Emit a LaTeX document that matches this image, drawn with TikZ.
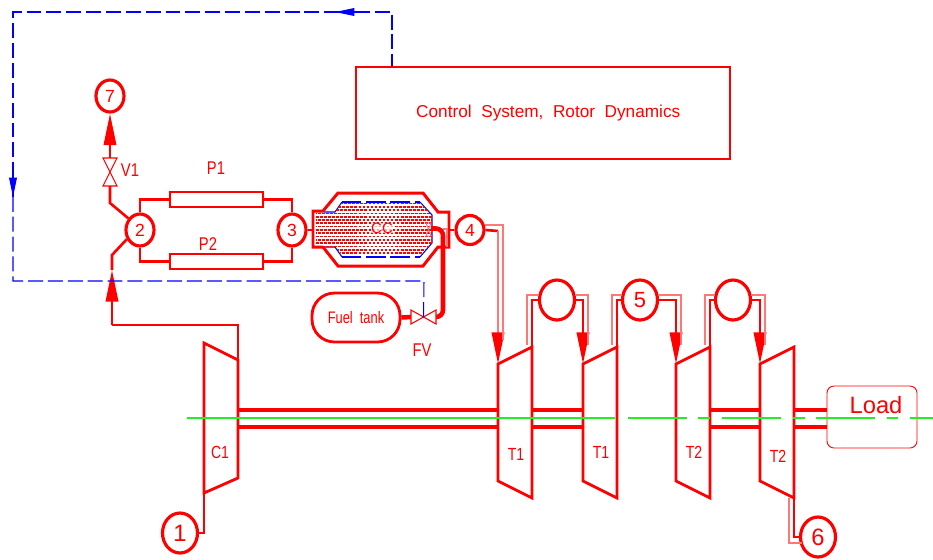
\documentclass[tikz,border=0pt]{standalone}
\usepackage{fontspec}
\usepackage{graphicx}
\setmainfont{Liberation Sans}
\usetikzlibrary{arrows.meta,positioning,calc,shapes.geometric}
\definecolor{gas}{RGB}{255,0,0}
\definecolor{gasp}{RGB}{255,120,120}
\definecolor{ctrl}{RGB}{0,0,255}
\definecolor{axis}{RGB}{40,235,40}
\newcommand{\fsz}[1]{\fontsize{#1}{#1}\selectfont}
\newcommand{\cad}[2][0.8]{\scalebox{#1}[1]{#2}}

\begin{document}
\begin{tikzpicture}[
    x=0.02cm, y=-0.02cm,
    pipe/.style={draw=gas, line width=1.5pt},
    fuel/.style={draw=gas, line width=2.6pt},
    pale/.style={draw=gasp, line width=0.7pt},
    shaft/.style={draw=gas, line width=2pt},
    sig/.style={draw=ctrl, line width=0.6pt, dash pattern=on 8.5pt off 2.8pt},
    arr/.style={-{Triangle[length=18pt,width=7pt]}, gas, line width=1.5pt},
    sarr/.style={-{Triangle[length=11pt,width=4.4pt]}, ctrl, line width=0.6pt},
    stn/.style={ellipse, draw=gas, line width=1.8pt, inner sep=0pt, text=gas, minimum width=0.56cm, minimum height=0.64cm},
    bstn/.style={stn, minimum width=0.7cm, minimum height=0.8cm},
    pbox/.style={draw=gas, line width=1.5pt, minimum width=1.86cm, minimum height=0.3cm},
    lab/.style={text=gas, inner sep=0pt},
    valve/.style={draw=gas, line width=0.6pt, fill=white},
]
\useasboundingbox (0,0) rectangle (933,559);

% Stations
\node[stn, font=\fsz{10}] (n7) at (110,96) {7};
\node[stn, font=\fsz{10}] (n2) at (140,230) {2};
\node[stn, font=\fsz{10}] (n3) at (292,230) {3};
\node[stn, font=\fsz{10}, minimum height=0.58cm] (n4) at (470,230) {4};
\node[bstn, font=\fsz{13.5}] (n1) at (180,533) {1};
\node[bstn, font=\fsz{12.5}] (n5) at (640,300) {5};
\node[bstn, font=\fsz{13.5}] (n6) at (818,537) {6};
\node[bstn] (na) at (557,300) {};
\node[bstn] (nb) at (733,300) {};

% Boxes
\node[pbox] (p1) at (216.5,199.5) {};
\node[pbox] (p2) at (216.5,261.5) {};
\node[draw=gas, line width=1.6pt, minimum width=7.48cm, minimum height=1.84cm, text=gas, font=\fsz{9.8}] (ctl) at (543,113) {\kern6pt Control\ \ System,\ \ Rotor\ \ Dynamics};
\node[draw=gas, line width=1.6pt, rounded corners=0.45cm, minimum width=1.76cm, minimum height=0.98cm, text=gas, font=\fsz{9.5}] (tank) at (356,317.5) {\cad[0.77]{Fuel\ \ tank}};
\node[draw=gas, line width=0.5pt, rounded corners=0.14cm, minimum width=1.8cm, minimum height=1.24cm] (load) at (872,417) {};

% Combustor
\coordinate (ccw) at (313,230);
\coordinate (cce) at (449,230);
\draw[ctrl, line width=0.6pt] (324,212) -- (335,212) -- (342,202);
\draw[ctrl, line width=0.6pt] (420,202) -- (432,215) -- (432,243) -- (420,257);
\draw[ctrl, line width=0.6pt] (324,247) -- (335,247) -- (342,257);
\draw[sig, dash pattern=on 11pt off 2.8pt] (342,202) -- (420,202);
\draw[sig, dash pattern=on 11pt off 2.8pt] (342,257) -- (420,257);
\begin{scope}
\clip (324,212) -- (335,212) -- (342,202) -- (420,202) -- (432,215) -- (432,243) -- (420,255) -- (342,255) -- (335,247) -- (316,247) -- (316,212) -- cycle;
\foreach \i in {0,...,15} {
    \pgfmathsetmacro{\yy}{203.5+3.3*\i}
    \pgfmathsetmacro{\ph}{mod(\i,2)*1.1}
    \draw[gas, line width=0.95pt, dash pattern=on 1.5pt off 0.8pt, dash phase=\ph pt] (316,\yy) -- (432,\yy);
}
\end{scope}
\draw[pipe, line width=1.7pt] (323,247) -- (313,247) -- (313,211) -- (323,211) -- (338,193) -- (423,193) -- (438,212) -- (449,212) -- (449,247) -- (438,247) -- (423,266) -- (338,266) -- (323,247);
\node[lab, font=\fsz{8.5}, fill=white, fill opacity=0.65, text opacity=1] (cc) at (382,228) {CC};
\draw[gasp, line width=0.5pt] (426,223) -- (431,223) -- (426,236) -- (431,236) -- cycle;

% Compressor and turbines
\draw[pipe, line width=1.6pt] (204,343) -- (238,360) -- (238,478) -- (204,493) -- cycle;
\coordinate (c1tl) at (204,343);
\coordinate (c1bl) at (204,493);
\coordinate (c1tr) at (238,360);
\node[lab, font=\fsz{10}] (c1) at (220,452) {\cad{C1}};
\foreach \nm/\x/\txt/\ty in {ta/498/T1/454, tb/583/T1/452, tc/676/T2/452, td/760/T2/456} {
    \coordinate (\nm tl) at (\x,364);
    \coordinate (\nm tr) at (\x+34,347);
    \coordinate (\nm br) at (\x+34,498);
    \draw[pipe, line width=1.6pt] (\nm tl) -- (\nm tr) -- (\nm br) -- (\x,481) -- cycle;
    \node[lab, font=\fsz{10}] (\nm lab) at (\x+18,\ty) {\cad{\txt}};
}

% Shaft
\coordinate (sa) at (0,410);
\coordinate (sb) at (0,427);
\foreach \a/\b in {c1tr/tatl, tatr/tbtl, tctr/tdtl, tdtr/load.west} {
    \draw[shaft] (\a |- sa) -- (\b |- sa);
    \draw[shaft] (\a |- sb) -- (\b |- sb);
}
\foreach \a/\b in {187/615, 628/687, 698/710, 722/781, 793/805, 816/875, 887/898, 910/933}
    \draw[axis, line width=0.6pt] (\a,418) -- (\b,418);

% Air side
\coordinate (v1t) at (110,158);
\coordinate (v1b) at (110,186);
\coordinate (ab) at (110,203);
\coordinate (ad) at (112,255);
\coordinate (am) at (112,270);
\coordinate (ae) at (112,325);
\draw[arr] (v1t) -- (n7.south);
\draw[valve] (103,158) -- (117,158) -- (103,186) -- (117,186) -- cycle;
\draw[pipe] (v1b) -- (ab) -- (n2.135);
\draw[pipe] (n2.215) -- (ad) -- (am);
\draw[arr] (ae) -- (am);
\draw[pipe] (ae) -| (c1tr);
\draw[pipe] (n2.north) |- (p1.west);
\draw[pipe] (p1.east) -| (n3.north);
\draw[pipe] (n2.south) |- (p2.west);
\draw[pipe] (p2.east) -| (n3.south);
\draw[pipe] (n3.east) -- (ccw);
\draw[pipe] (cce) -- (n4.west);
\draw[pipe] (c1bl) |- (n1.east);

% Fuel
\coordinate (fvc) at (423.5,317);
\coordinate (fvw) at (411,317);
\coordinate (fve) at (436,317);
\coordinate (ccf) at (431,228.5);
\draw[fuel] (tank.east) -- (fvw);
\draw[fuel, rounded corners=4pt] (ccf) -| (443,317) -- (fve);
\draw[pale] (443,229) -- (447,229) -- (447,247);
\draw[valve] (411,310) -- (411,324) -- (436,310) -- (436,324) -- cycle;

% Hot gas
\coordinate (h4a) at (498,231);
\coordinate (h4b) at (498,334);
\draw[pipe] (n4.east) -- (h4a);
\draw[pale, line width=0.9pt] (h4a) -- (h4b);
\draw[arr] (h4b) -- (tatl);
\draw[pale, line width=0.9pt] (n4.east) ++(-1,-5) -| (503,340);
\foreach \fr/\to in {na/tbtl, n5/tctl, nb/tdtl}
    \draw[arr] (\fr.east) -| (\to);
\draw[pale] (na.east) ++(-1,-5) -| (588,345);
\draw[pale] (n5.east) ++(-1,-5) -| (681,345);
\draw[pale] (nb.east) ++(-1,-5) -| (765,345);
\draw[pipe] (tatr) |- (na.west);
\draw[pipe] (tbtr) |- (n5.west);
\draw[pipe] (tctr) |- (nb.west);
\draw[pale] (527,345) |- ($(na.west)+(1,-5)$);
\draw[pale] (612,345) |- ($(n5.west)+(1,-5)$);
\draw[pale] (705,345) |- ($(nb.west)+(1,-5)$);
\draw[pipe] (tdbr) |- (n6.west);
\draw[pale] (789,498) |- (802,543);

% Control signals
\coordinate (sc) at (424,281);
\coordinate (sd) at (13,281);
\coordinate (se) at (13,12);
\coordinate (sf) at (392,12);
\coordinate (sg) at (392,66);
\coordinate (sh) at (13,197);
\coordinate (si) at (335,12);
\draw[sig] (fvc) -- (sc) -- (sd) -- (sh);
\draw[sig] (sh) -- (se) -- (si);
\draw[sig] (si) -- (sf) -- (ctl.north -| sg);
\draw[sarr] (13,174) -- (sh);
\draw[sarr] (355,12) -- (si);

% Labels
\node[lab, font=\fsz{10.5}] (v1) at (130,170) {\cad{V1}};
\node[lab, font=\fsz{10.5}] (lp1) at (216,168) {\cad{P1}};
\node[lab, font=\fsz{10.5}] (lp2) at (208,244) {\cad{P2}};
\node[lab, font=\fsz{10.5}] (fv) at (422,350) {\cad{FV}};
\node[lab, font=\fsz{13.5}] (loadlab) at (876,405) {Load};
\end{tikzpicture}
\end{document}
